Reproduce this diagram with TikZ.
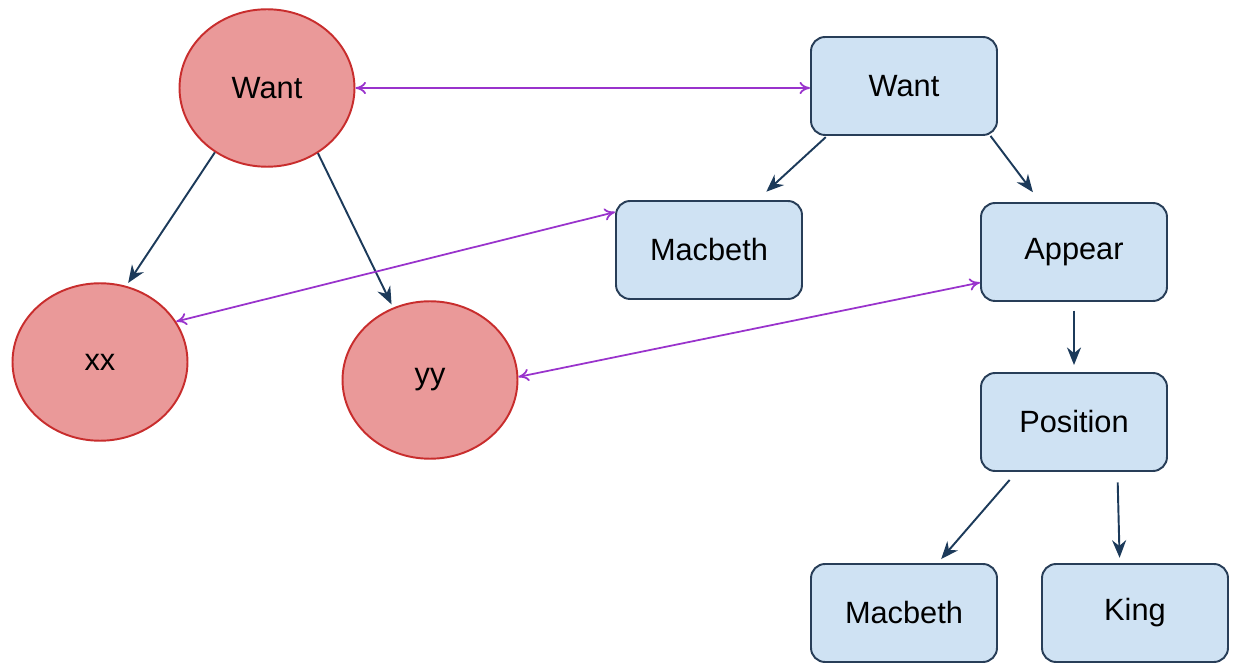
\documentclass[tikz,border=0pt]{standalone}
\usepackage{fontspec}
\setmainfont{Liberation Sans}
\usetikzlibrary{shapes.geometric,arrows.meta}
\definecolor{rootfill}{RGB}{234,153,153}
\definecolor{rootline}{RGB}{200,45,45}
\definecolor{boxfill}{RGB}{207,226,243}
\definecolor{boxline}{RGB}{40,62,88}
\definecolor{edgecol}{RGB}{28,58,90}
\definecolor{linkcol}{RGB}{153,51,204}
\begin{document}
\begin{tikzpicture}[x=0.02cm,y=-0.02cm,font=\fontsize{17.5}{20}\selectfont,
	oval/.style={ellipse,draw=rootline,fill=rootfill,line width=1.1pt,minimum width=3.5cm,minimum height=3.15cm},
	frame/.style={rectangle,rounded corners=8pt,draw=boxline,fill=boxfill,line width=1.1pt,minimum width=3.72cm,minimum height=1.96cm},
	edge/.style={draw=edgecol,line width=1.1pt,-{Stealth[length=10pt,width=8pt]},shorten >=2pt},
	link/.style={draw=linkcol,line width=1pt,{To[length=6pt,width=7pt]}-{To[length=6pt,width=7pt]}}]
	\useasboundingbox (0,0) rectangle (1235,665);
	% left graph
	\node[oval] (wc) at (267,88) {Want};
	\node[oval] (xx) at (100,362) {xx};
	\node[oval] (yy) at (430,380) {yy};
	% right tree
	\node[frame] (wb) at (904,86) {Want};
	\node[frame] (mac) at (709,250) {Macbeth};
	\node[frame] (app) at (1074,252) {Appear};
	\node[frame] (pos) at (1074,422) {Position};
	\node[frame] (mac2) at (904,613) {Macbeth};
	\node[frame] (king) at (1135,613) {King};
	% edges
	\draw[edge] (wc.231) -- (xx.71);
	\draw[edge] (wc.308) -- (yy.117);
	\draw[edge,shorten <=1pt,shorten >=7pt] (wb.213) -- (mac.46);
	\draw[edge,shorten >=7pt] (wb.330) -- (app.124);
	\draw[edge,shorten <=5pt,shorten >=4pt] (app.south) -- (pos.north);
	\draw[edge,shorten <=6pt,shorten >=3pt] (pos.221) -- (mac2.56);
	\draw[edge,shorten <=6pt,shorten >=3pt] (pos.311) -- (king.107);
	% links
	\draw[link] (wc.east) -- (wb.west|-wc.east);
	\draw[link] (xx.28) -- (mac.158);
	\draw[link] (yy.2) -- (app.198);
\end{tikzpicture}
\end{document}
